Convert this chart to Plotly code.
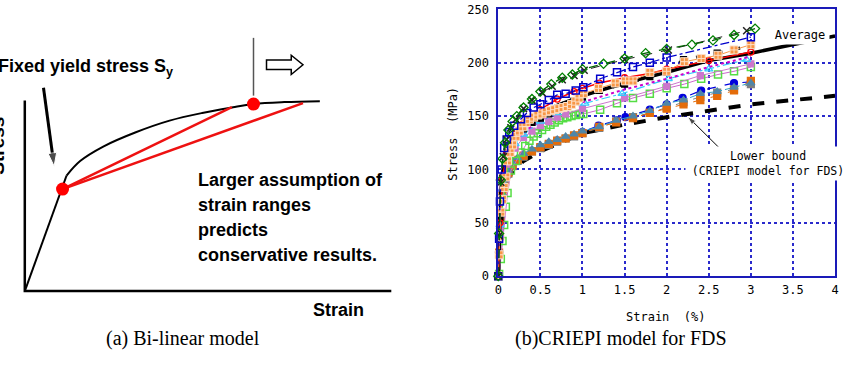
import plotly.graph_objects as go

W, H = 845, 378

# ---------------- (b) CRIEPI model : measured stress-strain curves ----------------
x_ticks = [0, 0.5, 1, 1.5, 2, 2.5, 3, 3.5, 4]
x_tick_labels = ["0", "0.5", "1", "1.5", "2", "2.5", "3", "3.5", "4"]
y_ticks = [0, 50, 100, 150, 200, 250]
y_tick_labels = ["0", "50", "100", "150", "200", "250"]

green_dia_x = [0, 0.01, 0.03, 0.05, 0.08, 0.12, 0.17, 0.22, 0.3, 0.4, 0.5, 0.63, 0.76, 0.88, 1.0, 1.25, 1.5, 1.75, 2.0, 2.3, 2.55, 2.8, 3.05]
green_dia_y = [0, 40, 90, 110, 125, 137, 145, 150, 158, 166, 173, 180, 186, 189, 194, 199, 204, 209, 213, 217, 221, 226, 232]

black_x_x = [0, 0.01, 0.03, 0.06, 0.1, 0.15, 0.21, 0.3, 0.4, 0.52, 0.64, 0.76, 0.9, 1.02, 1.5, 2.02, 2.95]
black_x_y = [0, 38, 88, 112, 128, 139, 147, 157, 165, 172, 178, 184, 188, 193, 203, 212, 230]

blue_sq_x = [0, 0.01, 0.02, 0.04, 0.07, 0.1, 0.13, 0.19, 0.27, 0.34, 0.42, 0.5, 0.6, 0.7, 0.8, 0.92, 1.01, 1.21, 1.41, 1.6, 1.8, 2.0, 3.0]
blue_sq_y = [0, 35, 70, 100, 120, 128, 135, 141, 147, 153, 158, 161, 165, 170, 171, 174, 177, 185, 191, 196, 200, 205, 224]

orange_sq_x = [0, 0.01, 0.02, 0.03, 0.05, 0.07, 0.09, 0.11, 0.14, 0.17, 0.21, 0.25, 0.29, 0.33, 0.37, 0.42, 0.47, 0.52, 0.57, 0.62, 0.67, 0.72, 0.77, 0.82, 0.87, 0.92, 0.96, 1.01, 1.19, 1.39, 1.51, 1.6, 1.8, 2.0, 2.21, 2.41, 2.61, 2.8, 3.0]
orange_sq_y = [0, 20, 37, 60, 72, 83, 93, 108, 116, 123, 131, 136, 140, 144, 147, 149, 151, 152, 154, 155, 156, 157, 158, 159, 161, 164, 167, 171, 176, 181, 183, 183, 191, 192, 201, 204, 207, 212, 217]

red_x = [0, 0.02, 0.05, 0.1, 0.2, 0.3, 0.5, 0.7, 0.9, 1.0, 1.2, 1.5, 1.8, 2.0, 2.5, 3.0]
red_y = [0, 50, 92, 115, 133, 143, 156, 166, 173, 176, 181, 186, 190, 194, 202, 210]

avg_x = [0, 0.01, 0.03, 0.05, 0.1, 0.2, 0.3, 0.5, 0.7, 1.0, 1.25, 1.5, 2.0, 2.5, 3.0, 3.5, 4.0]
avg_y = [0, 35, 80, 97, 118, 133, 141, 152, 160, 169, 175, 181, 191, 202, 209, 217, 225]

black_fill_x = [0, 0.02, 0.05, 0.1, 0.15, 0.2, 0.3, 0.4, 0.5, 0.6, 0.7, 0.8, 0.9, 1.0, 1.2, 1.5, 1.8, 2.0, 2.2, 2.6, 3.0]
black_fill_y = [0, 55, 92, 113, 123, 130, 138, 144, 148, 152, 156, 160, 164, 168, 174, 180, 187, 191, 203, 209, 216]

magenta_x = [0, 0.02, 0.05, 0.1, 0.2, 0.3, 0.5, 0.7, 1.0, 1.2, 1.5, 2.0, 2.5, 3.0]
magenta_y = [0, 50, 88, 110, 126, 135, 146, 154, 163, 168, 175, 185, 196, 206]

orchid_x = [0, 0.02, 0.05, 0.1, 0.2, 0.3, 0.4, 0.5, 0.6, 0.7, 0.8, 1.0, 1.5, 2.0, 2.4, 3.0]
orchid_y = [0, 45, 85, 105, 120, 130, 136, 141, 145, 149, 152, 157, 167, 178, 188, 199]

cyan_x = [0, 0.02, 0.05, 0.1, 0.2, 0.3, 0.5, 0.7, 1.03, 1.47, 2.02, 2.5, 2.95]
cyan_y = [0, 48, 88, 108, 124, 133, 145, 153, 162, 171, 185, 194, 203]

lgreen_x = [0, 0.01, 0.03, 0.05, 0.07, 0.09, 0.11, 0.15, 0.21, 0.27, 0.32, 0.37, 0.42, 0.47, 0.52, 0.57, 0.62, 0.67, 0.72, 0.77, 0.82, 0.87, 0.92, 0.97, 1.01, 1.21, 1.41, 1.6, 1.8, 2.0, 2.21, 2.41, 2.61, 2.8, 3.0]
lgreen_y = [0, 2, 16, 33, 48, 65, 78, 99, 108, 116, 122, 127, 131, 134, 137, 140, 142, 144, 146, 148, 149, 150, 151, 152, 152, 156, 162, 167, 171, 176, 180, 185, 189, 192, 196]

low_x = [0, 0.01, 0.03, 0.05, 0.08, 0.12, 0.17, 0.23, 0.3, 0.4, 0.5, 0.6, 0.7, 0.8, 0.9, 1.0, 1.2, 1.4, 1.6, 1.8, 2.0, 2.2, 2.4, 2.6, 2.8, 3.0]
low_orange_y = [0, 22, 55, 75, 88, 97, 104, 109, 113, 117, 121, 124, 127, 129, 132, 134, 140, 144, 148, 153, 157, 161, 165, 169, 174, 183]
low_gray_y = [0, 20, 52, 73, 87, 96, 103, 108, 112, 117, 120, 123, 126, 129, 131, 134, 139, 145, 149, 153, 158, 163, 168, 172, 175, 180]
low_steel_y = [0, 24, 57, 77, 90, 99, 106, 111, 115, 119, 123, 126, 128, 131, 133, 136, 140, 146, 150, 155, 162, 165, 171, 173, 177, 181]

low_blue_x = [0, 0.02, 0.05, 0.1, 0.2, 0.3, 0.5, 0.7, 1.0, 1.19, 1.41, 1.51, 1.8, 2.0, 2.19, 2.41, 2.8, 3.0]
low_blue_y = [0, 45, 80, 97, 108, 113, 121, 127, 135, 141, 146, 149, 156, 161, 167, 174, 181, 182]

lower_bound_x = [0, 0.02, 0.05, 0.1, 0.2, 0.3, 0.5, 0.7, 1.0, 1.5, 2.0, 2.5, 3.0, 3.5, 4.0]
lower_bound_y = [0, 45, 75, 90, 101, 108, 117, 124, 134, 142, 149, 155, 161, 165, 169]

# arrow from the "Lower bound" label to the curve (tail, head) in data units
lb_arrow_x = [2.63, 2.25]
lb_arrow_y = [119.8, 149.5]

# ---------------- (a) Bi-linear model schematic (arbitrary units) ----------------
sch_axis_x = [0, 0, 10]
sch_axis_y = [10, 0, 0]
sch_elastic_x = [0, 1.14]
sch_elastic_y = [0, 6.06]
sch_curve_x = [1.14, 1.51, 2.14, 3.03, 3.95, 4.84, 5.73, 6.24, 7.08, 8.05]
sch_curve_y = [6.06, 6.82, 7.58, 8.33, 8.94, 9.34, 9.65, 9.81, 9.91, 9.96]
sch_yield = (1.03, 5.35)
sch_end_short = (5.65, 9.65)
sch_end_long = (7.59, 9.86)
sch_dot_x = [1.03, 6.24]
sch_dot_y = [5.35, 9.81]
sch_marker_line_x = [6.24, 6.24]
sch_marker_line_y = [10.25, 13.28]
sch_arrow_x = [0.51, 0.80]
sch_arrow_y = [10.66, 6.55]

fig = go.Figure()

MONO = "DejaVu Sans Mono"
SANS = "Liberation Sans, Arial"
SERIF = "Liberation Serif, Times New Roman"


def px(x):
    return x / W


def py(y):
    return 1 - y / H


def add(x, y, lcolor, dash="solid", lwidth=1.2, symbol=None, msize=7,
        mcolor=None, mlcolor=None, mlwidth=1.2, mode=None):
    if mode is None:
        mode = "lines+markers" if symbol else "lines"
    fig.add_trace(go.Scatter(
        x=x, y=y, mode=mode, xaxis="x", yaxis="y", showlegend=False,
        cliponaxis=False, hoverinfo="skip",
        line=dict(color=lcolor, dash=dash, width=lwidth),
        marker=dict(symbol=symbol or "circle", size=msize,
                    color=mcolor or lcolor,
                    line=dict(color=mlcolor or mcolor or lcolor, width=mlwidth)),
    ))


# lower bound first (under everything)
add(lower_bound_x, lower_bound_y, "black", dash="dash", lwidth=4)
# lower group
add(low_blue_x, low_blue_y, "#0000dd", dash="dash", lwidth=1.2, symbol="circle", msize=7)
add(low_x, low_gray_y, "#7f7f7f", dash="dash", lwidth=1, symbol="square", msize=7)
add(low_x, low_orange_y, "#e46c0a", dash="dash", lwidth=1, symbol="square", msize=7)
add(low_x, low_steel_y, "#31a3c8", dash="dashdot", lwidth=1, symbol="triangle-up", msize=7, mcolor="#4f86a8")
# middle group
add(lgreen_x, lgreen_y, "#cc66cc", lwidth=1, symbol="square-open", msize=7, mcolor="#55dd44", mlwidth=1.5)
add(orchid_x, orchid_y, "#cc77cc", lwidth=1, symbol="square", msize=6, mcolor="#cc77cc")
add(cyan_x, cyan_y, "#33ccff", dash="dashdot", lwidth=1.2, symbol="triangle-up-open", msize=7, mlwidth=1.3)
add(magenta_x, magenta_y, "#cc00cc", dash="dot", lwidth=2)
add(black_fill_x, black_fill_y, "black", dash="dash", lwidth=3, symbol="square", msize=6)
add(avg_x, avg_y, "black", lwidth=3.5)
add(red_x, red_y, "#ff0000", lwidth=1.5, symbol="circle-open", msize=6, mlwidth=1.3)
add(orange_sq_x, orange_sq_y, "#f79646", lwidth=1, symbol="square-cross", msize=8,
    mcolor="#f79646", mlcolor="#fde0c8", mlwidth=1)
add(blue_sq_x, blue_sq_y, "#0000cc", dash="dashdot", lwidth=1.3, symbol="square-open", msize=7, mlwidth=1.5)
add(black_x_x, black_x_y, "#222222", dash="dash", lwidth=1, symbol="x-thin-open", msize=7, mlwidth=1.5)
add(green_dia_x, green_dia_y, "#006400", dash="dash", lwidth=1.3, symbol="diamond-open", msize=7,
    mcolor="#008000", mlwidth=1.3)

# arrow pointing at the lower bound curve
fig.add_trace(go.Scatter(
    x=lb_arrow_x, y=lb_arrow_y, mode="lines+markers", xaxis="x", yaxis="y",
    showlegend=False, hoverinfo="skip", cliponaxis=False,
    line=dict(color="black", width=1),
    marker=dict(symbol=["circle", "arrow"], size=[0, 9], angleref="previous", color="black"),
))

# ---------------- schematic traces ----------------
def sch(x, y, color, width, mode="lines", shape="linear", msize=0):
    fig.add_trace(go.Scatter(
        x=x, y=y, mode=mode, xaxis="x2", yaxis="y2", showlegend=False,
        hoverinfo="skip", cliponaxis=False,
        line=dict(color=color, width=width, shape=shape),
        marker=dict(size=msize, color=color),
    ))


sch(sch_axis_x, sch_axis_y, "black", 2.5)
sch(sch_elastic_x, sch_elastic_y, "black", 2)
sch(sch_curve_x, sch_curve_y, "black", 2, shape="spline")
sch([sch_yield[0], sch_end_short[0]], [sch_yield[1], sch_end_short[1]], "#ee1111", 2.5)
sch([sch_yield[0], sch_end_long[0]], [sch_yield[1], sch_end_long[1]], "#ee1111", 2.5)
sch(sch_marker_line_x, sch_marker_line_y, "#555555", 1.5)
sch(sch_dot_x, sch_dot_y, "#ff0000", 0, mode="markers", msize=13)
fig.add_trace(go.Scatter(
    x=sch_arrow_x, y=sch_arrow_y, mode="lines+markers", xaxis="x2", yaxis="y2",
    showlegend=False, hoverinfo="skip", cliponaxis=False,
    line=dict(color="black", width=3),
    marker=dict(symbol=["circle", "arrow"], size=[0, 14], angleref="previous", color="black"),
))

grid_col = "#2a2acc"
frame_col = "#1a1ab8"

fig.update_layout(
    width=W, height=H,
    margin=dict(l=0, r=0, t=0, b=0),
    paper_bgcolor="white", plot_bgcolor="white",
    xaxis=dict(domain=[499 / W, 839 / W], range=[0, 4], anchor="y",
               tickvals=x_ticks, ticktext=x_tick_labels,
               showgrid=True, gridcolor=grid_col, griddash="dot", gridwidth=1.5,
               showline=True, mirror=True, linecolor=frame_col, linewidth=2,
               zeroline=False, ticks="", ticklen=0, ticklabelstandoff=1, ticklabeloverflow="allow",
               tickfont=dict(family=MONO, size=12, color="black")),
    yaxis=dict(domain=[(H - 279.5) / H, (H - 2.5) / H], range=[0, 250], anchor="x",
               tickvals=y_ticks, ticktext=y_tick_labels,
               showgrid=True, gridcolor=grid_col, griddash="dot", gridwidth=1.5,
               showline=True, mirror=True, linecolor=frame_col, linewidth=2,
               zeroline=False, ticks="", ticklen=0, ticklabelstandoff=5, ticklabeloverflow="allow",
               tickfont=dict(family=MONO, size=12, color="black")),
    xaxis2=dict(domain=[0, 420 / W], range=[-21 / 37, (420 - 21) / 37],
                visible=False, anchor="y2"),
    yaxis2=dict(domain=[0, 1], range=[(295 - 378) / 19.8, 295 / 19.8],
                visible=False, anchor="x2"),
)

# hollow block arrow in the schematic
fig.add_shape(type="path", xref="x2", yref="y2",
              path="M 6.595 11.62 L 7.27 11.62 L 7.27 11.36 L 7.59 11.87 L 7.27 12.37 L 7.27 12.12 L 6.595 12.12 Z",
              line=dict(color="black", width=1.5), fillcolor="white")

ann = []
ann.append(dict(text="Fixed yield stress S<sub>y</sub>", x=px(-8), y=py(63), xref="paper", yref="paper",
                xanchor="left", yanchor="middle", showarrow=False,
                font=dict(family=SANS, size=18, weight="bold", color="black")))
ann.append(dict(text="Stress", x=px(-6), y=py(144), xref="paper", yref="paper",
                xanchor="center", yanchor="middle", showarrow=False, textangle=-90,
                font=dict(family=SANS, size=19, weight="bold", color="black")))
for i, line in enumerate(["Larger assumption of", "strain ranges", "predicts", "conservative results."]):
    ann.append(dict(text=line, x=px(194), y=py(180 + 25.7 * i), xref="paper", yref="paper",
                    xanchor="left", yanchor="middle", showarrow=False,
                    font=dict(family=SANS, size=18, weight="bold", color="black")))
ann.append(dict(text="Strain", x=px(338), y=py(315), xref="paper", yref="paper",
                xanchor="center", yanchor="middle", showarrow=False,
                font=dict(family=SANS, size=18, weight="bold", color="black")))
ann.append(dict(text="(a) Bi-linear model", x=px(181), y=py(344), xref="paper", yref="paper",
                xanchor="center", yanchor="middle", showarrow=False,
                font=dict(family=SERIF, size=20, color="black")))
ann.append(dict(text="(b)CRIEPI model for FDS", x=px(623), y=py(344), xref="paper", yref="paper",
                xanchor="center", yanchor="middle", showarrow=False,
                font=dict(family=SERIF, size=20, color="black")))
ann.append(dict(text="Stress  (MPa)", x=px(453), y=py(132), xref="paper", yref="paper",
                xanchor="center", yanchor="middle", showarrow=False, textangle=-90,
                font=dict(family=MONO, size=12, color="black")))
ann.append(dict(text="Strain  (%)", x=px(668), y=py(322), xref="paper", yref="paper",
                xanchor="center", yanchor="middle", showarrow=False,
                font=dict(family=MONO, size=12, color="black")))
ann.append(dict(text="Average", x=px(804), y=py(29), xref="paper", yref="paper",
                xanchor="center", yanchor="middle", showarrow=False, bgcolor="white",
                borderpad=2, width=54,
                font=dict(family=MONO, size=12, color="black")))
ann.append(dict(text="Lower bound<br>(CRIEPI model for FDS)", x=px(771), y=py(162),
                xref="paper", yref="paper", xanchor="center", yanchor="middle",
                showarrow=False, bgcolor="white", width=160, borderpad=2, align="center",
                font=dict(family=MONO, size=11.5, color="black")))
fig.update_layout(annotations=ann)

fig.write_html("out.html")
